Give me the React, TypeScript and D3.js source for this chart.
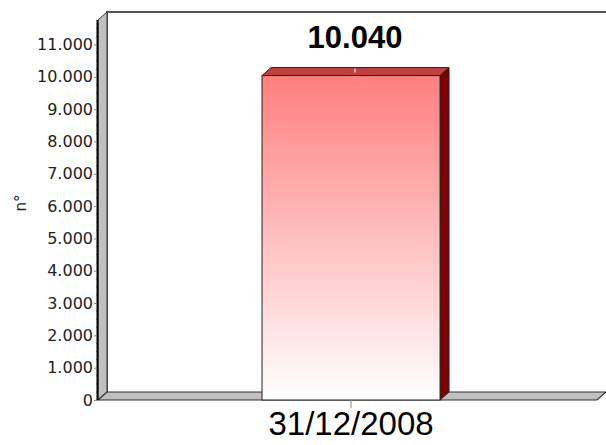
import { useEffect, useRef } from "react";
import * as d3 from "d3";

const categories = ["31/12/2008"];
const values = [10040];
const yTicks = [0, 1000, 2000, 3000, 4000, 5000, 6000, 7000, 8000, 9000, 10000, 11000];
const yMax = 11760;
const yTitle = "n°";

const width = 606;
const height = 445;

const App = () => {
  const ref = useRef<SVGSVGElement>(null);

  useEffect(() => {
    const svg = d3.select(ref.current);
    svg.selectAll("*").remove();

    const left = 98;
    const right = 597;
    const bottom = 400;
    const top = 20;
    const dx = 9; // profundidade 3D
    const dy = -8;

    const locale = d3.formatLocale({ decimal: ",", thousands: ".", grouping: [3], currency: ["", ""] });
    const fmt = locale.format(",d");

    const y = d3.scaleLinear().domain([0, yMax]).range([bottom, top]);
    const x = d3
      .scaleBand<string>()
      .domain(categories)
      .range([left, right])
      .paddingInner(0)
      .paddingOuter(0.9017)
      .align(0.511);

    const defs = svg.append("defs");
    const grad = defs
      .append("linearGradient")
      .attr("id", "barGrad")
      .attr("x1", 0)
      .attr("y1", 0)
      .attr("x2", 0)
      .attr("y2", 1);
    grad.append("stop").attr("offset", "0%").attr("stop-color", "#FF7F7F");
    grad.append("stop").attr("offset", "100%").attr("stop-color", "#FFFFFF");

    // parede de trás
    svg
      .append("path")
      .attr("d", `M${left + dx},${bottom + dy} L${left + dx},${top + dy} L${width},${top + dy}`)
      .attr("fill", "none")
      .attr("stroke", "#555")
      .attr("stroke-width", 2);

    // parede lateral
    svg
      .append("path")
      .attr(
        "d",
        `M${left},${bottom} L${left},${top} L${left + dx},${top + dy} L${left + dx},${bottom + dy} Z`
      )
      .attr("fill", "#C0C0C0")
      .attr("stroke", "#333")
      .attr("stroke-width", 1);

    // chão
    svg
      .append("path")
      .attr(
        "d",
        `M${left},${bottom} L${right},${bottom} L${right + dx},${bottom + dy} L${left + dx},${bottom + dy} Z`
      )
      .attr("fill", "#C0C0C0")
      .attr("stroke", "#333")
      .attr("stroke-width", 1.2);

    // barras
    categories.forEach((c, i) => {
      const x0 = x(c)!;
      const x1 = x0 + x.bandwidth();
      const yv = y(values[i]);
      // lado
      svg
        .append("path")
        .attr("d", `M${x1},${yv} L${x1 + dx},${yv + dy} L${x1 + dx},${bottom + dy} L${x1},${bottom} Z`)
        .attr("fill", "#800000")
        .attr("stroke", "#222")
        .attr("stroke-width", 1);
      // topo
      svg
        .append("path")
        .attr("d", `M${x0},${yv} L${x0 + dx},${yv + dy} L${x1 + dx},${yv + dy} L${x1},${yv} Z`)
        .attr("fill", "#C04040")
        .attr("stroke", "#222")
        .attr("stroke-width", 1);
      // frente
      svg
        .append("rect")
        .attr("x", x0)
        .attr("y", yv)
        .attr("width", x1 - x0)
        .attr("height", bottom - yv)
        .attr("fill", "url(#barGrad)")
        .attr("stroke", "#222")
        .attr("stroke-width", 1);
      // marca branca no topo
      svg
        .append("line")
        .attr("x1", x0 + x.bandwidth() / 2 + 4)
        .attr("x2", x0 + x.bandwidth() / 2 + 4)
        .attr("y1", yv + dy + 1)
        .attr("y2", yv - 3)
        .attr("stroke", "#fff")
        .attr("stroke-width", 1);
      // valor
      svg
        .append("text")
        .attr("x", x0 + x.bandwidth() / 2 + 4)
        .attr("y", yv - 28)
        .attr("text-anchor", "middle")
        .attr("font-family", "Liberation Sans, Arial, sans-serif")
        .attr("font-weight", "bold")
        .attr("font-size", 31)
        .attr("fill", "#000")
        .text(fmt(values[i]));
    });

    // eixo Y: traços menores
    const minor = d3.range(0, yMax, 250);
    svg
      .append("g")
      .selectAll("line")
      .data(minor)
      .enter()
      .append("line")
      .attr("x1", left - 2)
      .attr("x2", left)
      .attr("y1", (d) => y(d))
      .attr("y2", (d) => y(d))
      .attr("stroke", "#888")
      .attr("stroke-width", 1);

    svg
      .append("line")
      .attr("x1", left - 0.5)
      .attr("x2", left - 0.5)
      .attr("y1", top)
      .attr("y2", bottom)
      .attr("stroke", "#000")
      .attr("stroke-width", 2);

    const yAxis = d3
      .axisLeft(y)
      .tickValues(yTicks)
      .tickSize(3)
      .tickPadding(1)
      .tickFormat((d) => fmt(d as number));
    svg
      .append("g")
      .attr("transform", `translate(${left - 1},0)`)
      .call(yAxis)
      .call((g) => g.select(".domain").remove())
      .call((g) => g.selectAll(".tick line").attr("stroke", "#888"))
      .call((g) =>
        g
          .selectAll(".tick text")
          .attr("font-family", "DejaVu Sans, sans-serif")
          .attr("font-size", 16)
          .attr("fill", "#222")
      );

    // eixo X
    const xAxis = d3.axisBottom(x).tickSize(8).tickPadding(4);
    svg
      .append("g")
      .attr("transform", `translate(0,${bottom})`)
      .call(xAxis)
      .call((g) => g.select(".domain").remove())
      .call((g) => g.selectAll(".tick line").attr("stroke", "#888"))
      .call((g) =>
        g
          .selectAll(".tick text")
          .attr("font-family", "Liberation Sans, Arial, sans-serif")
          .attr("font-size", 33)
          .attr("fill", "#000")
      );

    // título Y
    svg
      .append("text")
      .attr("transform", `translate(26,203) rotate(-90)`)
      .attr("text-anchor", "middle")
      .attr("font-family", "DejaVu Sans, sans-serif")
      .attr("font-size", 15)
      .attr("fill", "#222")
      .text(yTitle);
  }, []);

  return (
    <svg
      ref={ref}
      width={width}
      height={height}
      style={{ position: "absolute", left: 0, top: 0, background: "#fff" }}
    />
  );
};

export default App;
